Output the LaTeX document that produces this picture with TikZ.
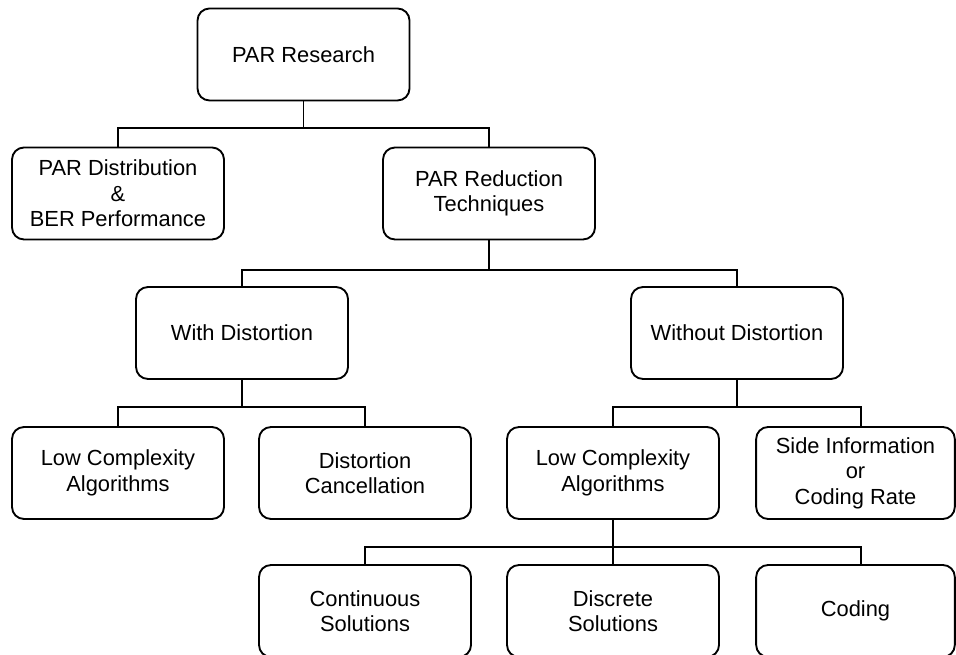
\documentclass[tikz,border=0pt]{standalone}
\usepackage{fontspec}
\setsansfont{Liberation Sans}
\usetikzlibrary{calc}

\begin{document}
\begin{tikzpicture}[
    x=0.75pt, y=-0.75pt,
    every node/.style={font=\sffamily\fontsize{16.4}{19.2}\selectfont},
    % Tree box
    tbox/.style={rectangle, rounded corners=9pt, draw=black, line width=1.4pt, fill=white,
                 minimum width=159pt, minimum height=69pt, align=center, inner sep=2pt},
    % Narrow box at the right edge
    ebox/.style={tbox, minimum width=149pt},
    % Orthogonal link
    link/.style={line width=1.4pt, black}
]
\useasboundingbox (0,0) rectangle (956,655);
\clip (0,0) rectangle (956,655);

% ---------- Root ----------
\node[tbox] at (303.5, 54.5) (res) {PAR Research};

% ---------- Second level ----------
\node[tbox] at (118, 193.5) (dist) {PAR Distribution\\\&\\BER Performance};
\node[tbox] at (489, 193.5) (red) {PAR Reduction\\Techniques};

% ---------- Third level ----------
\node[tbox] at (242, 333) (with) {With Distortion};
\node[tbox] at (737, 333) (without) {Without Distortion};

% ---------- Fourth level ----------
\node[tbox] at (118, 473) (lowa) {Low Complexity\\Algorithms};
\node[tbox] at (365, 473) (canc) {Distortion\\Cancellation};
\node[tbox] at (613, 473) (lowb) {Low Complexity\\Algorithms};
\node[ebox] at (855.5, 473) (side) {Side Information\\or\\Coding Rate};

% ---------- Fifth level ----------
\node[tbox] at (365, 611) (cont) {Continuous\\Solutions};
\node[tbox] at (613, 611) (disc) {Discrete\\Solutions};
\node[ebox] at (855.5, 611) (cod) {Coding};

% ---------- Links ----------
\draw[link] (res.south) -- ++(0,27) -| (dist.north);
\draw[link] (res.south) -- ++(0,27) -| (red.north);

\draw[link] (red.south) -- ++(0,30) -| (with.north);
\draw[link] (red.south) -- ++(0,30) -| (without.north);

\draw[link] (with.south) -- ++(0,27) -| (lowa.north);
\draw[link] (with.south) -- ++(0,27) -| (canc.north);

\draw[link] (without.south) -- ++(0,27) -| (lowb.north);
\draw[link] (without.south) -- ++(0,27) -| ($(side.north)+(5.5,0)$);

\draw[link] (lowb.south) -- ++(0,27) -| (cont.north);
\draw[link] (lowb.south) -- (disc.north);
\draw[link] (lowb.south) -- ++(0,27) -| ($(cod.north)+(5.5,0)$);

\end{tikzpicture}
\end{document}
